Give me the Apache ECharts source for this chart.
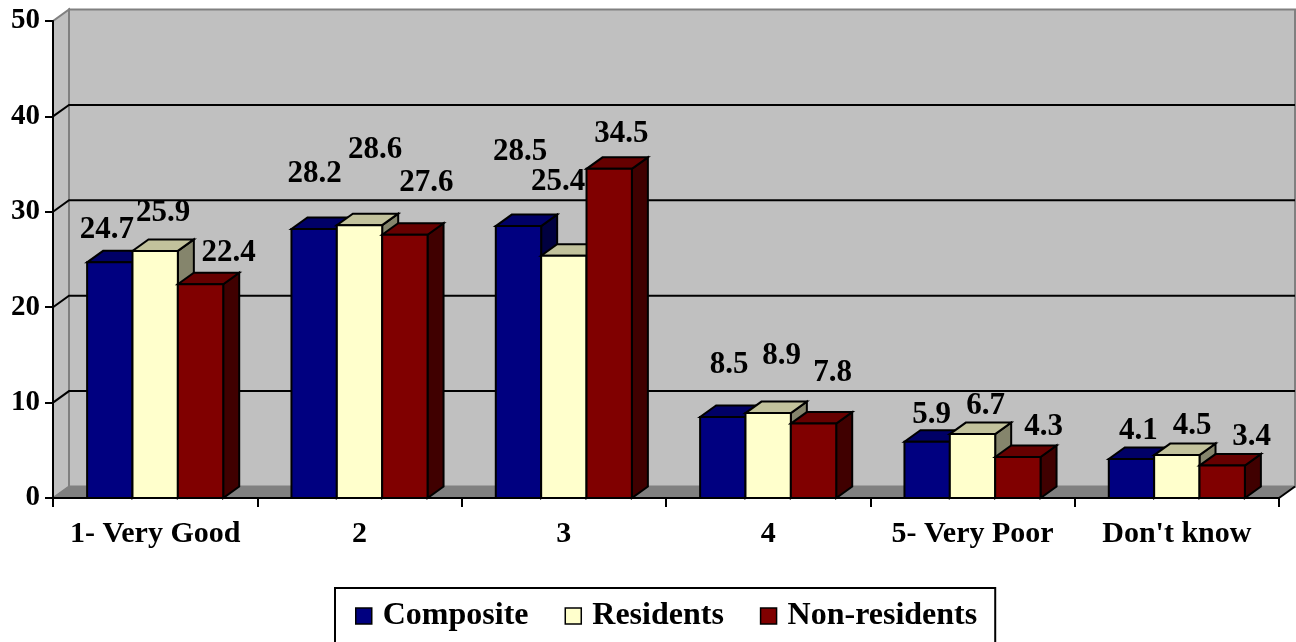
<!DOCTYPE html>
<html>
<head>
<meta charset="utf-8">
<title>Rating by respondent group</title>
<script src="https://cdn.jsdelivr.net/npm/echarts/dist/echarts.min.js"></script>
<style>
  html, body { margin: 0; padding: 0; background: #ffffff; }
  #chart { width: 1296px; height: 642px; }
</style>
</head>
<body>
<div id="chart"></div>
<script>
// ---- data ----
const categories = ['1- Very Good', '2', '3', '4', '5- Very Poor', "Don't know"];
const seriesNames = ['Composite', 'Residents', 'Non-residents'];
const composite = [24.7, 28.2, 28.5, 8.5, 5.9, 4.1];
const residents = [25.9, 28.6, 25.4, 8.9, 6.7, 4.5];
const nonResidents = [22.4, 27.6, 34.5, 7.8, 4.3, 3.4];
const yTicks = [0, 10, 20, 30, 40, 50];

// ---- look ----
const FONT = "'Liberation Serif', 'Times New Roman', serif";
const DEPTH_X = 16;      // oblique depth of the 3-D box
const DEPTH_Y = -11.5;
const BAR_FRAC = 0.222;  // bar width as a share of the category band

const faces = [
  { front: '#000080', top: '#000066', side: '#000040' },
  { front: '#ffffcc', top: '#c2c29c', side: '#85856c' },
  { front: '#800000', top: '#660000', side: '#400000' }
];

// where each value label sits, relative to the top front edge of its bar
const labelNudge = [
  [[-3, -32], [0.5, -55], [1.6, -74], [6.4, -52], [4.5, -27], [7, -28]],
  [[8, -38], [15.5, -75], [-5.8, -74], [13.5, -57], [13, -28], [15.4, -29]],
  [[28, -31], [21.5, -52], [12.3, -35], [19, -51], [25.7, -30], [29.5, -29]]
];

const seriesValues = [composite, residents, nonResidents];
const yMax = yTicks[yTicks.length - 1];

// back wall, side wall, floor and gridlines of the 3-D box
function renderBackdrop(params, api) {
  const cs = params.coordSys;
  const x0 = cs.x, x1 = cs.x + cs.width;
  const yTop = api.coord([0, yMax])[1];
  const yBot = api.coord([0, 0])[1];
  const dx = DEPTH_X, dy = DEPTH_Y;
  const children = [];
  children.push({
    type: 'polygon',
    shape: { points: [[x0 + dx, yTop + dy], [x1 + dx, yTop + dy], [x1 + dx, yBot + dy], [x0 + dx, yBot + dy]] },
    style: { fill: '#c0c0c0', stroke: '#808080', lineWidth: 2 }
  });
  children.push({
    type: 'polygon',
    shape: { points: [[x0, yTop], [x0 + dx, yTop + dy], [x0 + dx, yBot + dy], [x0, yBot]] },
    style: { fill: '#c0c0c0', stroke: '#808080', lineWidth: 2 }
  });
  yTicks.forEach(function (v) {
    if (v === 0 || v === yMax) return;
    const y = api.coord([0, v])[1];
    children.push({
      type: 'polyline',
      shape: { points: [[x0, y], [x0 + dx, y + dy], [x1 + dx, y + dy]] },
      style: { stroke: '#000000', lineWidth: 2, fill: null }
    });
  });
  children.push({
    type: 'polygon',
    shape: { points: [[x0, yBot], [x1, yBot], [x1 + dx, yBot + dy], [x0 + dx, yBot + dy]] },
    style: { fill: '#808080', stroke: '#808080', lineWidth: 1 }
  });
  children.push({
    type: 'line',
    shape: { x1: x1, y1: yBot, x2: x1 + dx, y2: yBot + dy },
    style: { stroke: '#000000', lineWidth: 2 }
  });
  return { type: 'group', children: children };
}

// one 3-D bar: front face, top face, right side face and its value label
function makeBarRenderer(si) {
  const c = faces[si];
  return function (params, api) {
    const ci = api.value(0);
    const v = api.value(1);
    const base = api.coord([ci, 0]);
    const top = api.coord([ci, v]);
    const band = api.size([1, 0])[0];
    const w = band * BAR_FRAC;
    const x = base[0] - 1.5 * w + si * w;
    const yb = base[1], yt = top[1];
    const dx = DEPTH_X, dy = DEPTH_Y;
    const edge = { stroke: '#000000', lineWidth: 2, lineJoin: 'miter' };
    const nudge = labelNudge[si][ci];
    return {
      type: 'group',
      children: [
        {
          type: 'polygon',
          shape: { points: [[x + w, yt], [x + w + dx, yt + dy], [x + w + dx, yb + dy], [x + w, yb]] },
          style: Object.assign({ fill: c.side }, edge)
        },
        {
          type: 'polygon',
          shape: { points: [[x, yt], [x + w, yt], [x + w + dx, yt + dy], [x + dx, yt + dy]] },
          style: Object.assign({ fill: c.top }, edge)
        },
        {
          type: 'rect',
          shape: { x: x, y: yt, width: w, height: yb - yt },
          style: Object.assign({ fill: c.front }, edge)
        },
        {
          type: 'text',
          style: {
            x: x + w / 2 + nudge[0],
            y: yt + nudge[1],
            text: String(v),
            align: 'center',
            verticalAlign: 'middle',
            fill: '#000000',
            font: 'bold 31px ' + FONT
          }
        }
      ]
    };
  };
}

const series = [{
  type: 'custom',
  name: 'backdrop',
  renderItem: renderBackdrop,
  data: [[0, 0]],
  encode: { x: 0, y: 1 },
  silent: true,
  z: 1
}];

seriesValues.forEach(function (vals, si) {
  series.push({
    type: 'custom',
    name: seriesNames[si],
    renderItem: makeBarRenderer(si),
    data: vals.map(function (v, i) { return [i, v]; }),
    encode: { x: 0, y: 1 },
    itemStyle: { color: faces[si].front },
    z: 2
  });
});

const chart = echarts.init(document.getElementById('chart'), null, { renderer: 'canvas' });
chart.setOption({
  backgroundColor: '#ffffff',
  animation: false,
  grid: { left: 53, right: 17, top: 21, bottom: 144, containLabel: false },
  xAxis: {
    type: 'category',
    data: categories,
    boundaryGap: true,
    z: 3,
    axisLine: { show: true, lineStyle: { color: '#000000', width: 2 } },
    axisTick: { show: true, length: 9, lineStyle: { color: '#000000', width: 2 } },
    axisLabel: {
      interval: 0, margin: 21, color: '#000000',
      fontFamily: FONT, fontWeight: 'bold', fontSize: 30
    },
    splitLine: { show: false }
  },
  yAxis: {
    type: 'value',
    min: yTicks[0],
    max: yMax,
    interval: yTicks[1] - yTicks[0],
    z: 3,
    axisLine: { show: true, lineStyle: { color: '#000000', width: 2 } },
    axisTick: { show: true, length: 8, lineStyle: { color: '#000000', width: 2 } },
    axisLabel: {
      margin: 13, color: '#000000',
      fontFamily: FONT, fontWeight: 'bold', fontSize: 29
    },
    splitLine: { show: false }
  },
  legend: {
    data: seriesNames,
    left: 335,
    top: 588,
    icon: 'rect',
    itemWidth: 16,
    itemHeight: 16,
    itemGap: 36,
    padding: [11, 18, 20, 20],
    borderColor: '#000000',
    borderWidth: 2,
    backgroundColor: '#ffffff',
    itemStyle: { borderColor: '#000000', borderWidth: 1.5 },
    textStyle: {
      color: '#000000', fontFamily: FONT, fontWeight: 'bold',
      fontSize: 32, lineHeight: 34, padding: [0, 0, 0, 6]
    },
    selectedMode: false
  },
  series: series
});
</script>
</body>
</html>
